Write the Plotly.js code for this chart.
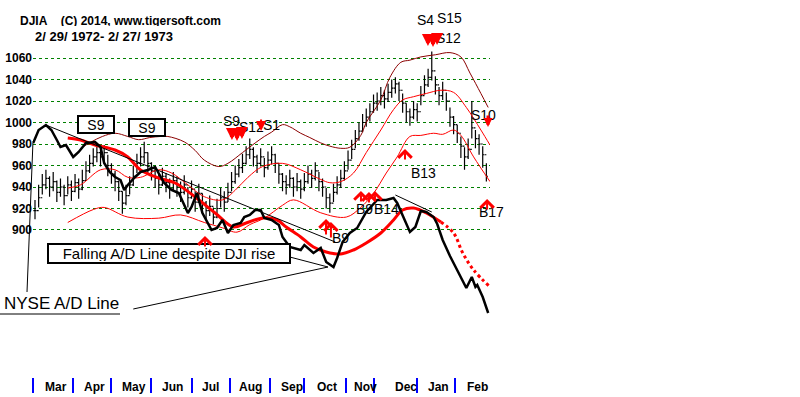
<!DOCTYPE html>
<html><head><meta charset="utf-8">
<script src="https://cdn.plot.ly/plotly-3.0.1.min.js"></script>
<style>html,body{margin:0;padding:0;background:#fff;} #chart{width:800px;height:397px;}</style>
</head><body><div id="chart"></div>
<script>
// DJIA daily bars, sampled every 2nd trading day from 2/29/1972
const djiClose = [918,930,942,948,940,945,935,940,932,942,
936,944,938,946,955,962,968,972,968,972,
960,952,945,936,925,932,942,950,962,968,
972,962,955,948,942,950,944,938,946,940,
935,942,930,938,926,934,925,918,922,912,
920,930,926,935,945,952,958,962,970,975,
968,962,968,958,965,970,962,952,945,942,
948,940,945,938,945,952,948,955,945,940,
930,925,935,942,948,955,965,975,985,992,
1000,1005,1010,1018,1020,1025,1022,1028,1032,1036,
1030,1018,1010,1005,1012,1010,1025,1035,1042,1048,
1035,1025,1030,1020,1005,998,990,978,968,975,
995,985,980,970,950];
const djiHigh = [928,942,952,956,950,954,946,948,942,950,
946,952,948,956,964,970,976,981,977,979,
970,962,955,946,936,942,950,960,971,977,
982,972,963,958,952,958,953,948,954,950,
945,951,940,946,936,943,934,927,932,921,
929,939,936,944,954,960,966,971,978,985,
977,970,976,967,973,978,971,962,953,951,
956,949,953,947,953,960,956,963,954,948,
939,934,943,950,956,964,974,984,993,1000,
1008,1013,1018,1026,1028,1033,1030,1036,1040,1042,
1038,1027,1018,1013,1020,1018,1034,1044,1050,1066,
1043,1033,1038,1028,1014,1006,998,987,977,985,
1020,993,989,978,962];
const djiLow = [910,921,933,938,931,936,926,931,923,933,
927,935,929,937,946,953,959,963,959,962,
950,943,936,927,915,923,933,941,953,959,
962,953,946,939,933,941,935,929,937,931,
926,933,921,929,917,925,916,909,913,905,
911,921,917,926,936,943,949,953,961,966,
959,953,959,949,956,961,953,943,936,933,
939,931,936,929,936,943,939,946,936,931,
920,916,926,933,939,946,956,966,976,983,
991,996,1001,1009,1011,1016,1013,1019,1023,1027,
1020,1009,1000,997,1003,1001,1016,1026,1033,1039,
1026,1016,1021,1011,996,989,981,967,956,966,
985,976,970,958,945];

// Bands (trading-day index, DJIA value)
const upperDays = [25,31,37,44,51,57,63,69,73,82,88,93,101,106,114,121,126,130,136,140,146,151,157,162,168,173,179,182,190,195,201,206,212,220,228,234,239,245,249];
const upperBand = [976,982,987,990,987,984,986,987,987,982,974,965,959,962,972,981,987,991,998,996,990,986,981,978,976,977,988,1000,1021,1042,1056,1058,1061,1063,1065,1061,1046,1027,1014];
const midDays = [18,25,36,44,51,58,68,75,84,93,103,110,117,125,136,146,157,162,168,175,182,190,197,202,208,215,223,230,237,245,250];
const midBand = [939,942,956,956,949,949,956,953,942,931,928,937,949,959,962,956,947,944,945,953,972,993,1012,1021,1024,1027,1030,1028,1014,993,979];
const lowDays = [18,32,38,51,68,80,93,103,111,118,126,136,142,157,171,179,186,193,199,206,212,219,224,230,234,241,250];
const lowBand = [907,919,921,912,911,914,907,902,898,905,911,923,928,916,912,921,934,953,968,987,988,990,989,993,988,968,945];

// NYSE A/D line (cumulative, arbitrary units) and its moving average
const adDays = [-1,2,6,9,12,14,17,21,24,28,33,36,38,41,44,47,49,51,55,58,62,66,71,75,79,84,86,89,92,97,100,103,106,109,113,115,118,121,124,126,130,134,136,140,146,148,153,157,160,164,166,169,173,177,182,188,193,197,199,202,206,209,212,215,219,221,224,228,232,235,237,240,242,243,246,249];
const adLine = [340,470,520,470,370,300,320,200,250,340,350,300,140,50,0,-30,-130,-80,0,50,70,100,-60,-130,-160,-360,-300,-160,-360,-530,-510,-430,-560,-480,-460,-400,-380,-330,-330,-410,-430,-480,-600,-700,-730,-680,-760,-710,-850,-900,-810,-650,-560,-510,-350,-230,-230,-210,-260,-380,-550,-500,-340,-350,-400,-470,-630,-790,-930,-1030,-1110,-1000,-1100,-1080,-1200,-1360];
const adMaDays = [18,25,33,44,51,58,68,77,88,99,109,116,125,133,138,146,153,160,168,175,182,190,197,202,208,215,223];
const adMa = [390,370,320,270,200,70,-10,-60,-200,-360,-500,-460,-410,-430,-500,-600,-700,-750,-770,-730,-660,-560,-430,-330,-310,-360,-450];
const adMaDotDays = [223,230,235,241,250];
const adMaDot = [-450,-560,-760,-930,-1100];

// Axis labels
const yTicks = [900,920,940,960,980,1000,1020,1040,1060];
const monthStartDays = [-1,21,42,64,86,107,129,148,171,186,210,231];
const monthNames = ['Mar','Apr','May','Jun','Jul','Aug','Sep','Oct','Nov','Dec','Jan','Feb'];
const monthLabelDays = [11.4,32.7,54.3,75.7,96.3,118.4,141,160.4,181.6,203.6,221.6,243.1];

// Signals: up (buy) and down (sell) arrows
const sellDays = [108.2,111,113.7,124.2,215.9,218.7,220.9,248.9];
const sellVals = [983.7,982.8,984.7,992.1,1071.2,1070.2,1072.1,995.8];
const sellWidth = [4,4,4,2,4,4,4,3];
const buyDays = [248.4,203.3,159.9,162.6,179.1,183.5,186.8,93.4];
const buyVals = [928.8,975.3,910.2,907.4,936.3,935.3,936.3,894.4];
const sigText = ['S9','S12','S1','S4','S15','S12','B13','B9','B9','B14'];
const sigDays = [108.2,119.2,129.7,214.8,228,227,213.2,167.6,181.3,193.4];
const sigVals = [1001.4,995.8,997.7,1095.4,1097.2,1078.5,953,892.6,919.5,919.5];

const barDays = djiClose.map((_, i) => i * 2);
const djiOpen = djiClose.map((c, i) => i === 0 ? c : djiClose[i - 1]);

const FONT = 'Liberation Sans, Arial, sans-serif';
const traces = [
  {type:'scatter', mode:'lines', x:upperDays, y:upperBand, line:{color:'#8b0000', width:1, shape:'spline'}, hoverinfo:'skip'},
  {type:'scatter', mode:'lines', x:midDays, y:midBand, line:{color:'#ff0000', width:1, shape:'spline'}, hoverinfo:'skip'},
  {type:'scatter', mode:'lines', x:lowDays, y:lowBand, line:{color:'#ff0000', width:1, shape:'spline'}, hoverinfo:'skip'},
  {type:'ohlc', x:barDays, open:djiOpen, high:djiHigh, low:djiLow, close:djiClose, tickwidth:0.45,
   increasing:{line:{color:'#000', width:1.2}}, decreasing:{line:{color:'#000', width:1.2}}, hoverinfo:'skip'},
  {type:'scatter', mode:'lines', x:adMaDays, y:adMa, yaxis:'y2', line:{color:'#ff0000', width:3, shape:'spline'}, hoverinfo:'skip'},
  {type:'scatter', mode:'lines', x:adMaDotDays, y:adMaDot, yaxis:'y2', line:{color:'#ff0000', width:3, dash:'dot', shape:'spline'}, hoverinfo:'skip'},
  {type:'scatter', mode:'lines', x:adDays, y:adLine, yaxis:'y2', line:{color:'#000', width:2.5}, hoverinfo:'skip'}
];

const ann = [];
const txt = (text, x, y, o) => Object.assign({text, x, y, xref:'x', yref:'y', showarrow:false,
  font:{family:FONT, size:14, color:'#000'}}, o || {});
ann.push(txt('DJIA\u00a0\u00a0\u00a0\u00a0(C) 2014, www.tigersoft.com', -0.0328, 0.9443,
  {xref:'paper', yref:'paper', xanchor:'left', yanchor:'middle', height:11, font:{family:FONT, size:12, color:'#000', weight:'bold'}}));
ann.push(txt('2/ 29/ 1972- 2/ 27/ 1973', 0, 0.9045,
  {xref:'paper', yref:'paper', xanchor:'left', yanchor:'middle', height:11, font:{family:FONT, size:13, color:'#000', weight:'bold'}}));
monthNames.forEach((m, i) => ann.push(txt(m, monthLabelDays[i], -0.0265,
  {yref:'paper', yanchor:'middle', font:{family:FONT, size:12, color:'#000', weight:'bold'}})));
ann.push(txt('S9', 33.5, 998.6, {bordercolor:'#000', borderwidth:2, width:32, height:13, bgcolor:'#fff'}));
ann.push(txt('S9', 61.5, 995.8, {bordercolor:'#000', borderwidth:2, width:32, height:13, bgcolor:'#fff'}));
ann.push(txt('Falling A/D Line despite DJI rise', 73.4, 877.7, {bordercolor:'#000', borderwidth:2, width:238, height:15, bgcolor:'#fff', font:{family:FONT, size:15, color:'#000'}}));
ann.push(txt('NYSE A/D Line', -0.0678, 0.196, {xref:'paper', yref:'paper', xanchor:'left', yanchor:'middle', font:{family:FONT, size:17, color:'#000'}}));
ann.push(txt('S10', 1.0175, 1007, {xref:'paper'}));
ann.push(txt('B17', 1.035, 916.7, {xref:'paper'}));
sigText.forEach((t, i) => ann.push(txt(t, sigDays[i], sigVals[i], {height:12})));
sellDays.forEach((d, i) => ann.push({x:d, y:sellVals[i], xref:'x', yref:'y', text:'', showarrow:true,
  ax:0, ay:-13, arrowcolor:'#ff0000', arrowwidth:sellWidth[i], arrowhead:2, arrowsize:sellWidth[i] > 2 ? 0.6 : 1}));
buyDays.forEach((d, i) => ann.push({x:d, y:buyVals[i], xref:'x', yref:'y', text:'', showarrow:true,
  ax:0, ay:(i === 2 || i === 3) ? 17 : 12, arrowcolor:'#ff0000', arrowwidth:2, arrowhead:4, arrowsize:1.3}));

const shapes = [
  {type:'line', xref:'x', yref:'y2', x0:6, y0:520, x1:165, y1:-650, line:{color:'#000', width:1}},
  {type:'line', xref:'x', yref:'y2', x0:198, y0:-180, x1:218, y1:-350, line:{color:'#000', width:1}},
  {type:'line', xref:'x', yref:'y2', x0:140, y0:-800, x1:161, y1:-900, line:{color:'#000', width:1}},
  {type:'line', xref:'x', yref:'y2', x0:54, y0:-1320, x1:161, y1:-900, line:{color:'#000', width:1}},
  {type:'line', xref:'paper', yref:'paper', x0:-0.0131, y0:0.2255, x1:0, y1:0.626, line:{color:'#000', width:1}},
  {type:'line', xref:'paper', yref:'paper', x0:-0.0722, y0:0.1671, x1:0.1904, y1:0.1671, line:{color:'#000', width:1}}
];

const layout = {
  width:800, height:397, margin:{l:33, r:310, t:0, b:20},
  paper_bgcolor:'#fff', plot_bgcolor:'#fff', showlegend:false,
  font:{family:FONT, color:'#000'},
  xaxis:{range:[-1.1, 250], showgrid:false, zeroline:false, showline:false,
    tickvals:monthStartDays, ticks:'outside', ticklen:15, tickwidth:2, tickcolor:'#0000ff',
    showticklabels:false, rangeslider:{visible:false}, fixedrange:true},
  yaxis:{range:[763.25, 1113.95], tickvals:yTicks, showgrid:true, gridcolor:'#008000', griddash:'dot', gridwidth:1,
    zeroline:false, showline:false, ticks:'', tickfont:{family:FONT, size:12, color:'#000', weight:'bold'}, fixedrange:true},
  yaxis2:{range:[-2000, 1770], overlaying:'y', visible:false, fixedrange:true},
  annotations:ann, shapes:shapes
};
Plotly.newPlot('chart', traces, layout, {staticPlot:true, displayModeBar:false});
</script></body></html>
